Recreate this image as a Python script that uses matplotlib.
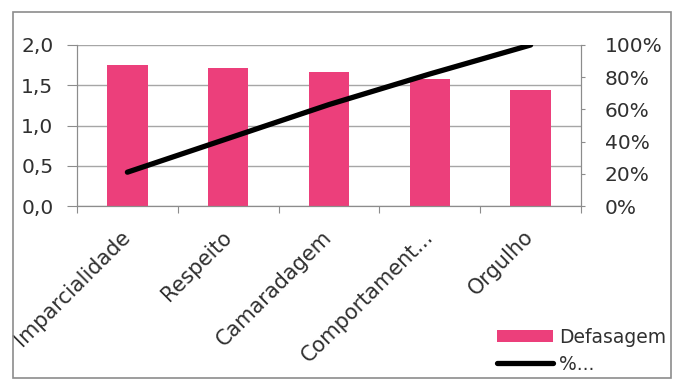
import matplotlib
matplotlib.use('Agg')
import matplotlib.pyplot as plt
from matplotlib.patches import Rectangle, Patch
from matplotlib.lines import Line2D
from matplotlib.ticker import FuncFormatter, FixedLocator

categorias = ["Imparcialidade", "Respeito", "Camaradagem", "Comportament...", "Orgulho"]
defasagem = [1.75, 1.72, 1.66, 1.58, 1.44]
acumulado = [0.21, 0.42, 0.63, 0.82, 1.00]

rosa = '#EC3F7B'
cinza = '#8C8C8C'
texto = '#303030'
plt.rcParams['font.family'] = ['DejaVu Sans']
plt.rcParams['font.size'] = 14.5

fig = plt.figure(figsize=(6.79, 3.8), dpi=100)
W, H = 679, 380
ax = fig.add_axes([77 / W, 1 - 206 / H, 504 / W, 161 / H])

x = list(range(len(categorias)))
ax.bar(x, defasagem, width=0.4, color=rosa, zorder=2)
ax.set_xlim(-0.5, len(categorias) - 0.5)
ax.set_ylim(0, 2.0)
ax.set_yticks([0, 0.5, 1.0, 1.5, 2.0])
ax.yaxis.set_major_formatter(FuncFormatter(lambda v, p: f"{v:.1f}".replace('.', ',')))
ax.grid(axis='y', color='#A6A6A6', lw=1, zorder=0)
ax.set_axisbelow(True)

ax.xaxis.set_major_locator(FixedLocator([i - 0.5 for i in range(len(categorias) + 1)]))
ax.xaxis.set_minor_locator(FixedLocator(x))
ax.set_xticklabels([], minor=False)
ax.set_xticklabels(categorias, minor=True, rotation=45, ha='right', va='center',
                   rotation_mode='anchor', fontsize=15)
ax.tick_params(axis='x', which='major', length=5, color=cinza, direction='out')
ax.tick_params(axis='x', which='minor', length=0, pad=20, colors=texto)
ax.tick_params(axis='y', length=7, color=cinza, labelcolor=texto, pad=10)
for s in ax.spines.values():
    s.set_color(cinza)
ax.spines['top'].set_visible(False)

ax2 = ax.twinx()
ax2.plot(x, acumulado, color='black', lw=3.8, solid_capstyle='round', zorder=3)
ax2.set_ylim(0, 1.0)
ax2.set_yticks([0, 0.2, 0.4, 0.6, 0.8, 1.0])
ax2.yaxis.set_major_formatter(FuncFormatter(lambda v, p: f"{v * 100:.0f}%"))
ax2.tick_params(axis='y', length=3, color=cinza, labelcolor=texto, pad=14)
for s in ax2.spines.values():
    s.set_color(cinza)
ax2.spines['top'].set_visible(False)

handles = [Patch(facecolor=rosa, edgecolor='none'),
           Line2D([0], [0], color='black', lw=3.8, solid_capstyle='round')]
fig.legend(handles, ['Defasagem', '%...'], loc='upper left',
           bbox_to_anchor=(497 / W, 1 - 328 / H), frameon=False, fontsize=13.5,
           handlelength=3.0, handleheight=0.6, handletextpad=0.3, labelspacing=0.4,
           borderaxespad=0, borderpad=0, labelcolor=texto)

fig.patches.append(Rectangle((13 / W, 2 / H), 658 / W, 366 / H, transform=fig.transFigure,
                             fill=False, edgecolor='#8C8C8C', lw=1.2))

fig.savefig('out.png', dpi=100)
